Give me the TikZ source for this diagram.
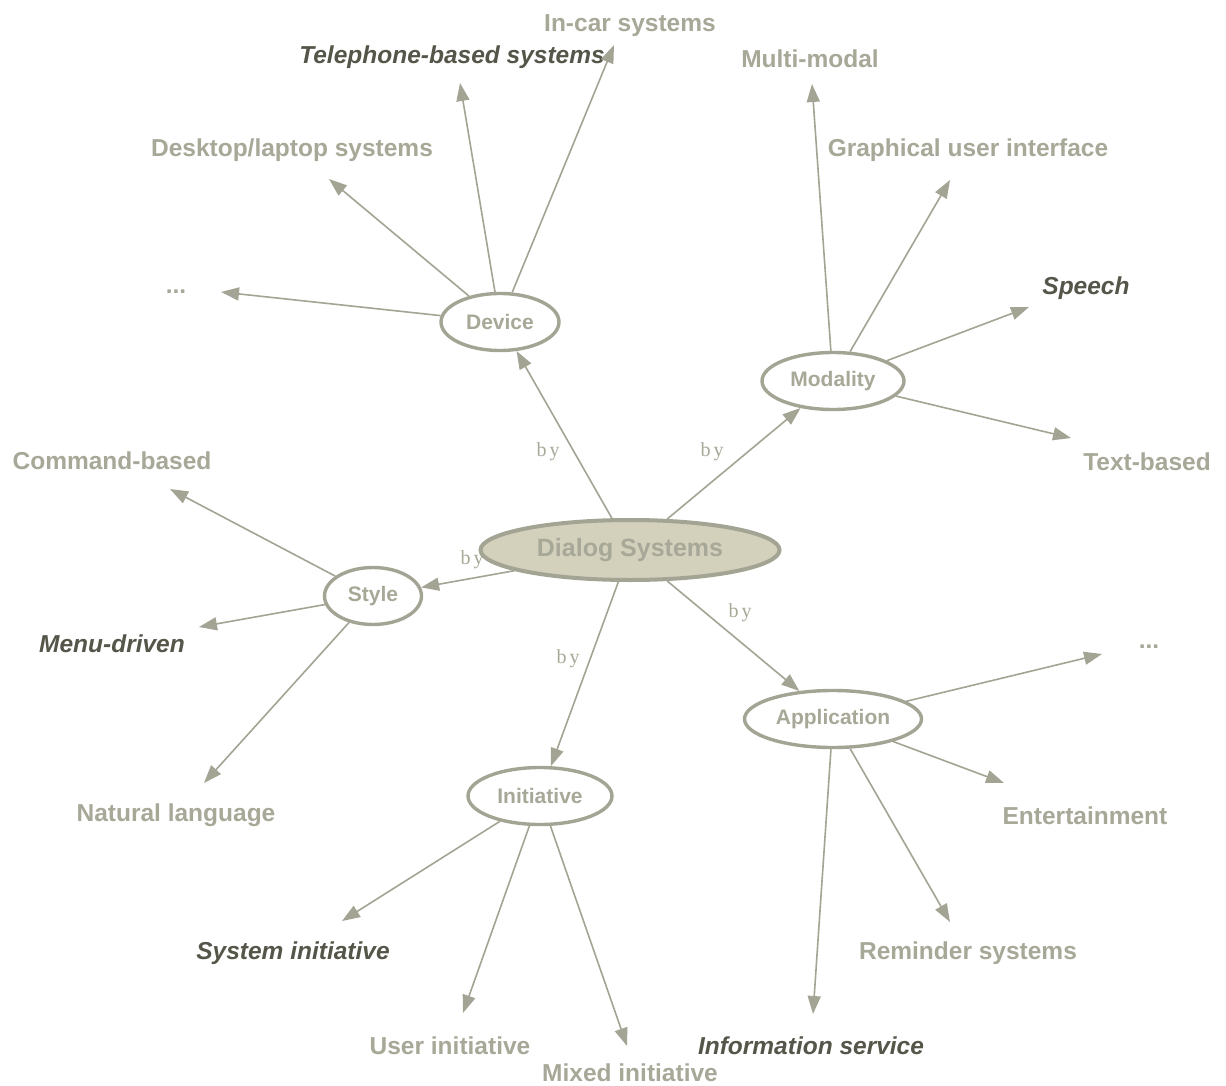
\documentclass[tikz,border=0pt]{standalone}
\usepackage{fontspec}
\setmainfont{Liberation Sans}
\newfontfamily\byfont{Liberation Serif}
\usetikzlibrary{shapes.geometric,arrows.meta}
\definecolor{edgecol}{HTML}{A3A493}
\definecolor{lighttext}{HTML}{A8A898}
\definecolor{darktext}{HTML}{55554A}
\definecolor{hubfill}{HTML}{D3D0BC}
\begin{document}
\begin{tikzpicture}[x=1pt,y=-1pt,
  hub/.style={ellipse, draw=edgecol, fill=hubfill, line width=4pt, inner sep=0pt,
    minimum width=299pt, minimum height=60pt, text=lighttext,
    font=\fontsize{25}{28}\selectfont\bfseries},
  facet/.style={ellipse, draw=edgecol, fill=white, line width=3.4pt, inner sep=0pt,
    minimum height=57pt, text=lighttext, font=\fontsize{21}{24}\selectfont\bfseries},
  leaf/.style={inner sep=0pt, yshift=-2.5pt, text=lighttext, font=\fontsize{24.5}{28}\selectfont\bfseries},
  keyleaf/.style={inner sep=0pt, yshift=-2.5pt, text=darktext, font=\fontsize{24.5}{28}\selectfont\bfseries\itshape},
  edge/.style={draw=edgecol, line width=1.6pt, -{Triangle[length=18pt,width=13pt]}},
  bylabel/.style={inner sep=0pt, text=lighttext, font=\fontsize{20}{24}\selectfont\byfont}
]
\fill[white] (0,0) rectangle (1226,1086);
\useasboundingbox (0,0) rectangle (1226,1086);

% central concept and its facets
\node[hub] (ds) at (630,550) {Dialog Systems};
\node[facet, minimum width=118pt] (device) at (500,322) {Device};
\node[facet, minimum width=142pt] (modality) at (833,381) {Modality};
\node[facet, minimum width=97pt] (style) at (373,596) {Style};
\node[facet, minimum width=144pt] (initiative) at (540,796) {Initiative};
\node[facet, minimum width=177pt] (application) at (833,719) {Application};

% classification edges
\draw[edge] (ds) -- (device);
\draw[edge] (ds) -- (modality);
\draw[edge] (ds) -- (style);
\draw[edge] (ds) -- (initiative);
\draw[edge] (ds) -- (application);
\node[bylabel] (by-dev) at (548,452) {b\hspace{3pt}y};
\node[bylabel] (by-mod) at (712,452) {b\hspace{3pt}y};
\node[bylabel] (by-sty) at (472,560) {b\hspace{3pt}y};
\node[bylabel] (by-ini) at (568,659) {b\hspace{3pt}y};
\node[bylabel] (by-app) at (740,613) {b\hspace{3pt}y};

% device
\node[leaf] (dev-more) at (176,289) {...};
\node[leaf] (dev-desk) at (292,148) {Desktop/laptop systems};
\node[keyleaf] (dev-tel) at (452,55) {Telephone-based systems};
\node[leaf] (dev-car) at (630,23) {In-car systems};
\coordinate (dev-more-t) at (221,292);
\coordinate (dev-desk-t) at (329,179);
\coordinate (dev-tel-t) at (460,83);
\coordinate (dev-car-t) at (614,45);
\draw[edge] (device) -- (dev-more-t);
\draw[edge] (device) -- (dev-desk-t);
\draw[edge] (device) -- (dev-tel-t);
\draw[edge] (device) -- (dev-car-t);

% modality
\node[leaf] (mod-multi) at (810,56) {Multi-modal};
\node[leaf] (mod-gui) at (968,148) {Graphical user interface};
\node[keyleaf] (mod-speech) at (1086,286) {Speech};
\node[leaf] (mod-text) at (1147,459) {Text-based};
\coordinate (mod-multi-t) at (812,84);
\coordinate (mod-gui-t) at (950,180);
\coordinate (mod-speech-t) at (1029,307);
\coordinate (mod-text-t) at (1071,438);
\draw[edge] (modality) -- (mod-multi-t);
\draw[edge] (modality) -- (mod-gui-t);
\draw[edge] (modality) -- (mod-speech-t);
\draw[edge] (modality) -- (mod-text-t);

% style
\node[leaf] (sty-cmd) at (112,458) {Command-based};
\node[keyleaf] (sty-menu) at (112,641) {Menu-driven};
\node[leaf] (sty-nat) at (176,813) {Natural language};
\coordinate (sty-cmd-t) at (170,489);
\coordinate (sty-menu-t) at (199,627);
\coordinate (sty-nat-t) at (204,783);
\draw[edge] (style) -- (sty-cmd-t);
\draw[edge] (style) -- (sty-menu-t);
\draw[edge] (style) -- (sty-nat-t);

% initiative
\node[keyleaf] (ini-sys) at (293,951) {System initiative};
\node[leaf] (ini-user) at (450,1043) {User initiative};
\node[leaf] (ini-mixed) at (630,1070) {Mixed initiative};
\coordinate (ini-sys-t) at (342,921);
\coordinate (ini-user-t) at (463,1013);
\coordinate (ini-mixed-t) at (627,1046);
\draw[edge] (initiative) -- (ini-sys-t);
\draw[edge] (initiative) -- (ini-user-t);
\draw[edge] (initiative) -- (ini-mixed-t);

% application
\node[leaf] (app-more) at (1149,644) {...};
\node[leaf] (app-ent) at (1085,813) {Entertainment};
\node[leaf] (app-rem) at (968,951) {Reminder systems};
\node[keyleaf] (app-info) at (811,1043) {Information service};
\coordinate (app-more-t) at (1102,654);
\coordinate (app-ent-t) at (1004,783);
\coordinate (app-rem-t) at (950,922);
\coordinate (app-info-t) at (813,1014);
\draw[edge] (application) -- (app-more-t);
\draw[edge] (application) -- (app-ent-t);
\draw[edge] (application) -- (app-rem-t);
\draw[edge] (application) -- (app-info-t);
\end{tikzpicture}
\end{document}
